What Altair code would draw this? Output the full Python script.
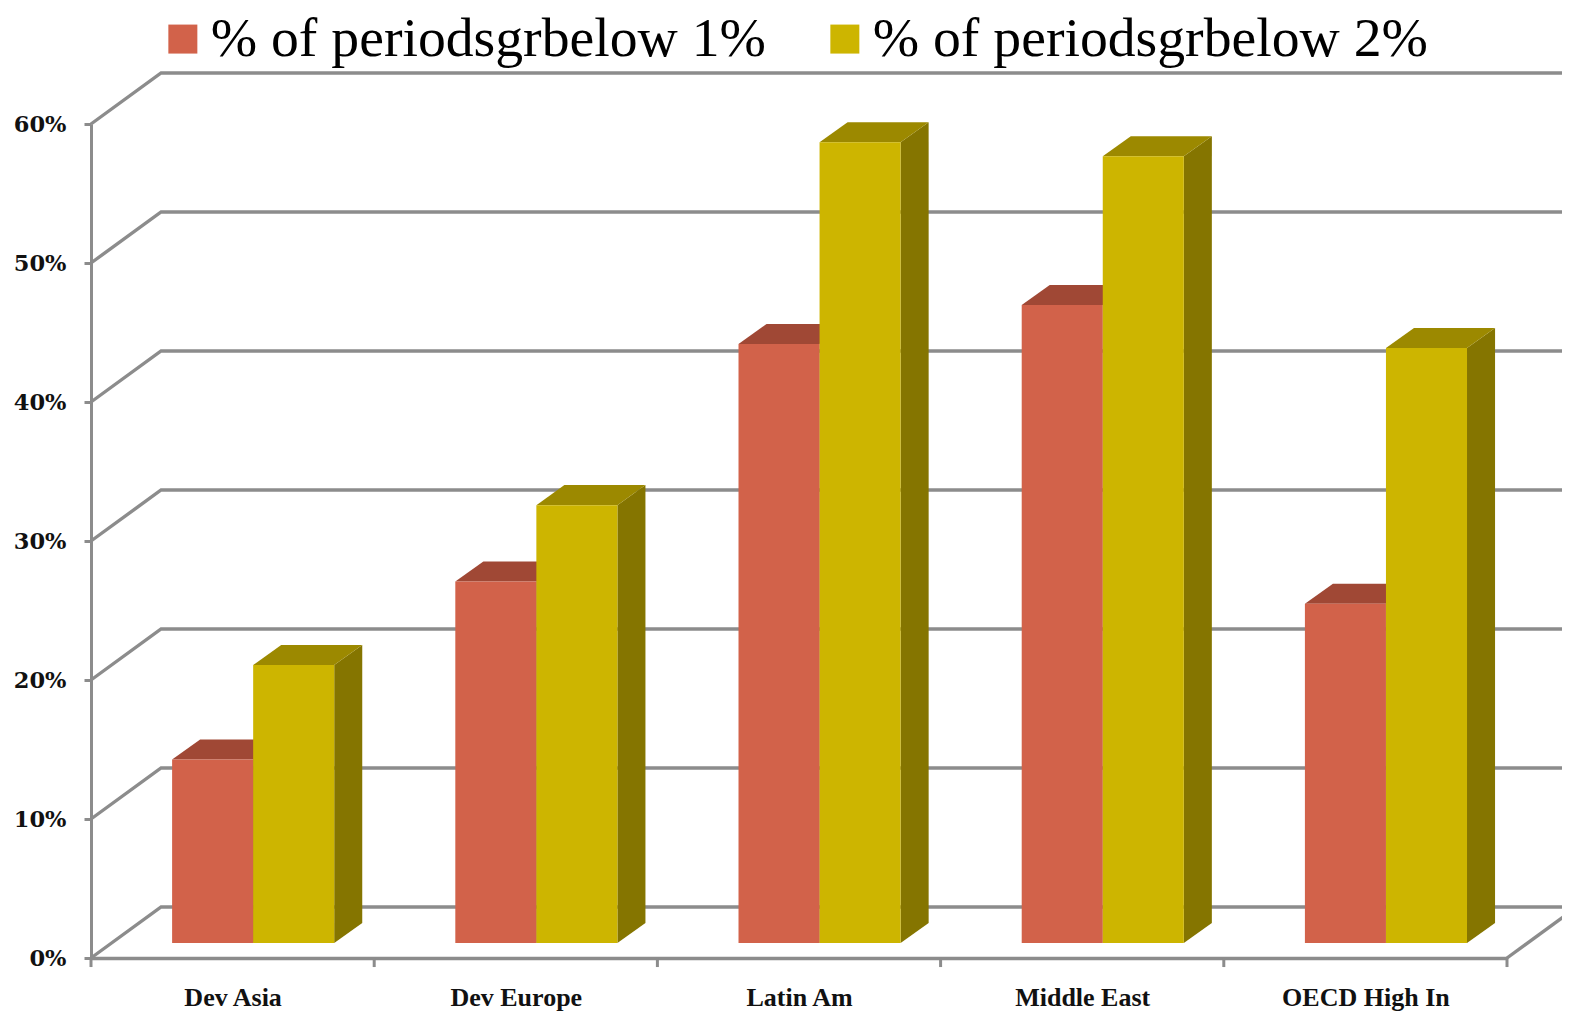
import altair as alt
import pandas as pd

categories = ["Dev Asia", "Dev Europe", "Latin Am", "Middle East", "OECD High In"]
series_names = ["% of periodsgrbelow 1%", "% of periodsgrbelow 2%"]
below_1 = [0.132, 0.260, 0.431, 0.459, 0.244]
below_2 = [0.200, 0.315, 0.576, 0.566, 0.428]
grid_values = [0.0, 0.1, 0.2, 0.3, 0.4, 0.5, 0.6]

RED, RED_TOP, RED_SIDE = "#D2624A", "#A04835", "#8F4030"
YEL, YEL_TOP, YEL_SIDE = "#CDB500", "#9C8900", "#857500"
GRAY = "#8C8C8C"
SERIF = "Liberation Serif"
BOLD_Y = "DejaVu Serif"

# geometry of the pseudo-3D box, in data units
WALL_DX, WALL_DY = 0.2475, 0.0367
BAR_DX, BAR_DY = 0.099, 0.0144
BAR_LIFT = 0.0108
BAR_START, BAR_W = 0.2864, 0.2862
X_MAX, Y_MAX = 5, 0.6

xs = alt.Scale(domain=[0, X_MAX], nice=False, zero=False)
ys = alt.Scale(domain=[0, Y_MAX], nice=False, zero=False)

fronts, sides, tops = [], [], []
for s, (name, vals, c_top, c_side) in enumerate(
    [(series_names[0], below_1, RED_TOP, RED_SIDE), (series_names[1], below_2, YEL_TOP, YEL_SIDE)]
):
    for i, v in enumerate(vals):
        x0 = i + BAR_START + s * BAR_W
        x1 = x0 + BAR_W
        base = BAR_LIFT
        top = BAR_LIFT + v
        key = f"{s}-{i}"
        fronts.append(dict(series=name, cat=categories[i], x0=x0, x1=x1, base=base, top=top))
        sides.append(dict(key=key, x=x1, lo=base, hi=top, color=c_side))
        sides.append(dict(key=key, x=x1 + BAR_DX, lo=base + BAR_DY, hi=top + BAR_DY, color=c_side))
        tops.append(dict(key=key, y=top, xa=x0, xb=x1, color=c_top))
        tops.append(dict(key=key, y=top + BAR_DY, xa=x0 + BAR_DX, xb=x1 + BAR_DX, color=c_top))
fronts = pd.DataFrame(fronts)
sides = pd.DataFrame(sides)
tops = pd.DataFrame(tops)

lines = []
for v in grid_values:
    lines.append(dict(g=str(v), o=0, x=0, y=v))
    lines.append(dict(g=str(v), o=1, x=WALL_DX, y=v + WALL_DY))
    lines.append(dict(g=str(v), o=2, x=X_MAX + WALL_DX, y=v + WALL_DY))
lines.append(dict(g="floor", o=0, x=X_MAX, y=0))
lines.append(dict(g="floor", o=1, x=X_MAX + WALL_DX, y=WALL_DY))
lines = pd.DataFrame(lines)

ticks = pd.DataFrame({"x": list(range(len(categories) + 1))})
ticks["y"] = 0.0
ticks["y2"] = -0.0065

label_array = "[" + ",".join(f"'{c}'" for c in categories) + "]"

x_axis = alt.Axis(
    values=[i + 0.5 for i in range(len(categories))],
    labelExpr=f"{label_array}[floor(datum.value)]",
    tickSize=0, title=None, grid=False, domain=True, domainColor=GRAY, domainWidth=3.5,
    labelFont=SERIF, labelFontWeight="bold", labelFontSize=26, labelColor="#111111",
    labelPadding=26, labelAngle=0,
)
y_axis = alt.Axis(
    values=grid_values, format=".0%", title=None, grid=False, domain=True, domainColor=GRAY,
    domainWidth=3, tickColor=GRAY, tickWidth=3, tickSize=7,
    labelFont=BOLD_Y, labelFontWeight="bold", labelFontSize=22.5, labelColor="#111111", labelPadding=18,
)

wall = alt.Chart(lines).mark_line(color=GRAY, strokeWidth=3.4, strokeJoin="miter").encode(
    x=alt.X("x:Q", scale=xs, axis=x_axis),
    y=alt.Y("y:Q", scale=ys, axis=y_axis),
    detail="g:N",
    order="o:Q",
)
tick_marks = alt.Chart(ticks).mark_rule(color=GRAY, strokeWidth=3).encode(
    x=alt.X("x:Q", scale=xs), y=alt.Y("y:Q", scale=ys), y2="y2:Q"
)
side_faces = alt.Chart(sides).mark_area(opacity=1).encode(
    x=alt.X("x:Q", scale=xs),
    y=alt.Y("lo:Q", scale=ys),
    y2="hi:Q",
    detail="key:N",
    fill=alt.Fill("color:N", scale=None),
)
top_faces = alt.Chart(tops).mark_area(orient="horizontal", opacity=1).encode(
    y=alt.Y("y:Q", scale=ys),
    x=alt.X("xa:Q", scale=xs),
    x2="xb:Q",
    detail="key:N",
    fill=alt.Fill("color:N", scale=None),
)
front_faces = alt.Chart(fronts).mark_rect().encode(
    x=alt.X("x0:Q", scale=xs),
    x2="x1:Q",
    y=alt.Y("base:Q", scale=ys),
    y2="top:Q",
    color=alt.Color(
        "series:N",
        scale=alt.Scale(domain=series_names, range=[RED, YEL]),
        legend=alt.Legend(
            title=None, orient="none", legendX=64, legendY=-113, direction="horizontal", columns=2,
            symbolType="square", symbolSize=841, symbolStrokeWidth=0, symbolOpacity=1,
            labelFont=SERIF, labelFontSize=55.7, labelColor="#000000", labelLimit=800,
            labelOffset=0, columnPadding=51, labelBaseline="middle",
        ),
    ),
)

W, H = 1416, 834
LEFT, TOP = 83, 116
TOTAL_W, TOTAL_H = 1554, 1005

chart = (
    alt.layer(wall, tick_marks, side_faces, top_faces, front_faces)
    .properties(
        width=W, height=H,
        padding={"left": LEFT, "top": TOP, "right": TOTAL_W - LEFT - W, "bottom": TOTAL_H - TOP - H},
        autosize=alt.AutoSizeParams(type="none"),
        background="white",
    )
    .configure_view(stroke=None)
)
chart.save("out.html", embed_options={"renderer": "svg", "actions": False})
